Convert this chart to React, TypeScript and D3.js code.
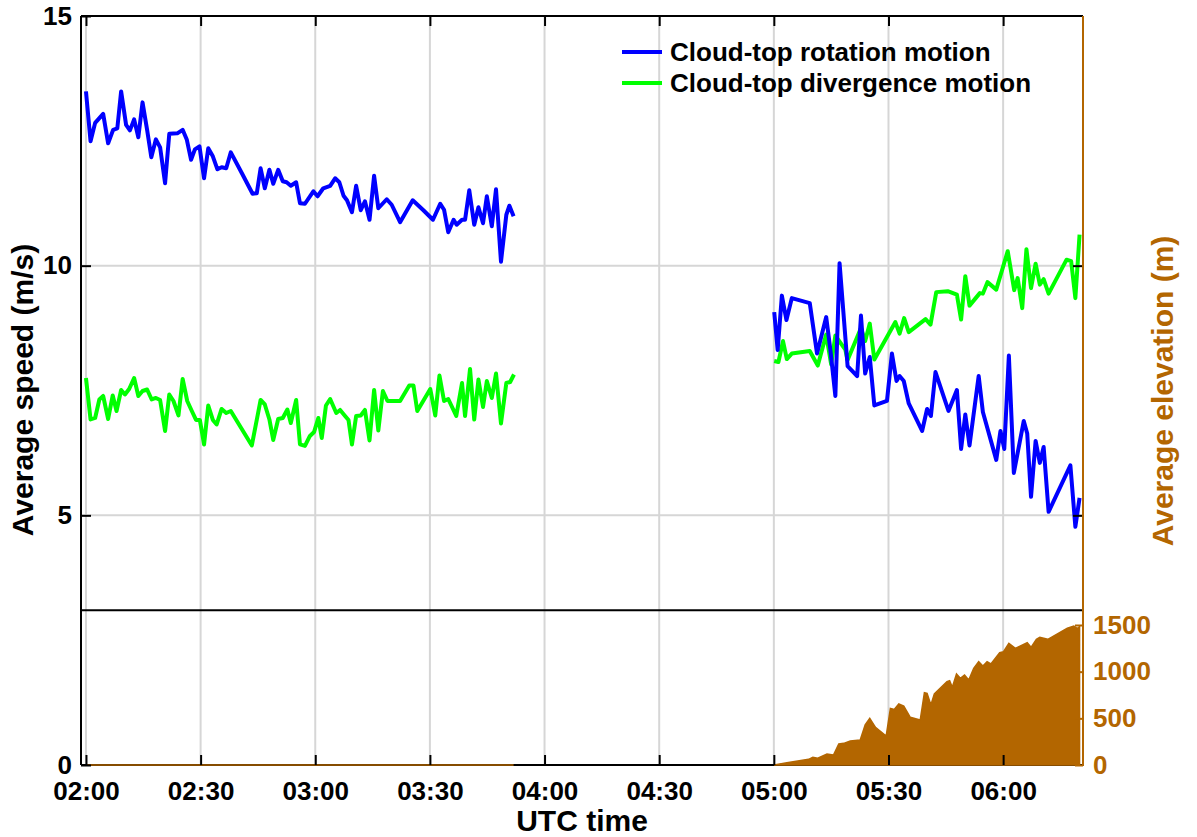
import React, { useEffect, useRef } from 'react';
import * as d3 from 'd3';

// time is minutes after 02:00 UTC, speed in m/s, elevation in m
const rotationBefore: [number, number][] = [
  [0, 13.49], [1.2, 12.49], [2.4, 12.86], [4.5, 13.04], [5.8, 12.45], [7.1, 12.72], [8.2, 12.75], [9.2, 13.49],
  [10.5, 12.82], [11.5, 12.71], [12.6, 12.93], [13.7, 12.57], [14.8, 13.27], [16.0, 12.72], [17.1, 12.17], [18.3, 12.53],
  [19.4, 12.37], [20.7, 11.65], [21.8, 12.64], [23.9, 12.65], [25.3, 12.72], [26.4, 12.52], [27.5, 12.12], [28.5, 12.33],
  [29.7, 12.39], [30.9, 11.75], [32.0, 12.35], [33.2, 12.19], [34.4, 11.93], [35.5, 11.97], [36.7, 11.95], [37.9, 12.27],
  [40.8, 11.85], [43.6, 11.44], [44.7, 11.45], [45.7, 11.95], [46.8, 11.55], [48.0, 11.92], [49.0, 11.64], [50.3, 11.92],
  [51.5, 11.69], [52.5, 11.67], [53.6, 11.6], [55.0, 11.67], [56.0, 11.25], [57.3, 11.24], [59.5, 11.49], [60.6, 11.39],
  [62.1, 11.55], [63.9, 11.6], [65.2, 11.75], [66.3, 11.67], [67.4, 11.4], [68.3, 11.31], [69.6, 11.07], [70.7, 11.6],
  [71.9, 11.11], [73.0, 11.29], [74.2, 10.92], [75.4, 11.8], [76.5, 11.15], [78.7, 11.33], [80.0, 11.22], [82.2, 10.87],
  [85.5, 11.31], [88.3, 11.11], [90.8, 10.92], [92.7, 11.24], [93.7, 11.12], [94.8, 10.67], [96.2, 10.92], [97.0, 10.82],
  [98.4, 10.92], [99.2, 10.92], [100.3, 11.51], [101.6, 10.82], [102.7, 11.17], [103.9, 10.85], [104.9, 11.39], [106.2, 10.79],
  [107.3, 11.53], [108.6, 10.08], [110.0, 11.02], [110.8, 11.2], [111.9, 10.99],
];

const divergenceBefore: [number, number][] = [
  [0, 7.75], [1.2, 6.92], [2.4, 6.95], [3.5, 7.32], [4.5, 7.39], [5.8, 6.93], [7.0, 7.4], [8.0, 7.09],
  [9.2, 7.51], [10.2, 7.42], [11.3, 7.53], [12.6, 7.75], [13.7, 7.39], [14.8, 7.49], [16.0, 7.52], [17.2, 7.32],
  [18.3, 7.35], [19.4, 7.31], [20.7, 6.69], [21.8, 7.42], [22.9, 7.29], [24.2, 7.0], [25.3, 7.73], [26.5, 7.29],
  [27.7, 7.09], [28.8, 6.91], [29.8, 6.91], [30.9, 6.42], [32.0, 7.2], [33.2, 6.91], [34.2, 6.82], [35.5, 7.13],
  [36.7, 7.05], [37.9, 7.09], [43.4, 6.4], [45.7, 7.31], [46.8, 7.22], [48.0, 6.92], [49.0, 6.51], [50.3, 6.93],
  [51.5, 6.95], [52.7, 7.12], [53.6, 6.85], [55.0, 7.31], [56.0, 6.42], [57.3, 6.39], [58.6, 6.59], [59.7, 6.67],
  [60.8, 6.95], [61.7, 6.55], [62.8, 7.2], [63.9, 7.33], [65.5, 7.05], [66.5, 7.11], [67.8, 6.99], [68.7, 6.91],
  [69.6, 6.42], [70.7, 6.99], [71.9, 7.0], [73.0, 7.11], [74.2, 6.5], [75.4, 7.51], [76.5, 6.7], [77.7, 7.49],
  [78.9, 7.29], [82.2, 7.29], [84.6, 7.6], [85.7, 7.6], [86.7, 7.09], [90.1, 7.53], [91.4, 7.0], [92.5, 7.8],
  [93.7, 7.29], [94.8, 7.33], [96.9, 6.99], [98.4, 7.65], [99.2, 6.99], [100.5, 7.93], [101.6, 6.92], [102.7, 7.72],
  [103.9, 7.17], [104.9, 7.69], [106.2, 7.35], [107.3, 7.84], [108.6, 6.84], [110.0, 7.65], [111.0, 7.67], [112.0, 7.82],
];

const rotationAfter: [number, number][] = [
  [180.1, 9.07], [181.0, 8.31], [182.1, 9.4], [183.3, 8.91], [184.7, 9.35], [189.4, 9.25], [191.3, 8.24], [193.7, 8.97],
  [194.8, 8.31], [196.1, 7.39], [197.2, 10.05], [199.3, 7.99], [201.8, 7.79], [202.8, 9.0], [203.9, 7.84], [205.1, 8.17],
  [206.3, 7.2], [209.6, 7.29], [210.9, 8.24], [212.1, 7.69], [212.9, 7.79], [214.0, 7.69], [215.3, 7.24], [218.8, 6.69],
  [220.1, 7.13], [221.1, 6.99], [222.3, 7.87], [225.7, 7.09], [227.9, 7.51], [229.0, 6.33], [230.1, 7.02], [231.2, 6.4],
  [233.6, 7.79], [234.7, 7.07], [238.2, 6.11], [239.3, 6.69], [240.3, 6.33], [241.5, 8.2], [242.8, 5.85], [245.4, 6.89],
  [246.3, 6.64], [247.3, 5.37], [248.5, 6.49], [249.6, 6.05], [250.6, 6.37], [251.9, 5.07], [257.6, 6.0], [258.9, 4.77],
  [260.0, 5.35],
];

const divergenceAfter: [number, number][] = [
  [180.1, 8.09], [181.2, 8.07], [182.4, 8.49], [183.4, 8.13], [184.7, 8.24], [189.4, 8.29], [191.5, 8.0], [193.7, 8.62],
  [195.0, 8.02], [196.1, 8.6], [198.7, 8.32], [199.3, 8.11], [202.8, 8.75], [203.9, 8.49], [205.1, 8.84], [206.3, 8.12],
  [211.8, 8.87], [212.9, 8.64], [214.1, 8.95], [215.3, 8.67], [219.7, 8.93], [221.0, 8.82], [222.5, 9.47], [225.5, 9.49],
  [227.9, 9.42], [229.0, 8.92], [230.1, 9.79], [231.2, 9.2], [233.9, 9.45], [234.7, 9.44], [235.9, 9.67], [238.2, 9.52],
  [241.2, 10.29], [242.9, 9.51], [243.8, 9.75], [245.0, 9.15], [246.1, 10.33], [247.3, 9.55], [248.5, 10.04], [249.6, 9.62],
  [250.6, 9.73], [251.9, 9.44], [256.6, 10.12], [257.8, 10.09], [258.9, 9.35], [260.0, 10.62],
];

const elevationBefore: [number, number][] = [[0, 0], [111.9, 0]];

const elevationAfter: [number, number][] = [
  [180.1, 0], [183.4, 25], [189.1, 61], [190.2, 82], [191.5, 72], [193.9, 118], [195.6, 107], [197.0, 225],
  [198.3, 232], [200.0, 257], [202.6, 268], [203.9, 429], [205.1, 500], [206.6, 404], [209.4, 311], [210.5, 607],
  [211.5, 596], [212.7, 654], [214.0, 632], [215.7, 511], [218.3, 482], [219.4, 775], [220.1, 768], [221.1, 643],
  [222.0, 761], [225.3, 893], [226.0, 903], [226.7, 832], [227.8, 975], [228.8, 929], [229.9, 964], [231.0, 911],
  [232.3, 1036], [233.6, 1107], [234.7, 1061], [235.8, 1107], [236.8, 1082], [239.1, 1203], [240.1, 1214], [241.5, 1304],
  [243.2, 1250], [246.3, 1311], [247.3, 1261], [248.7, 1347], [249.6, 1368], [251.7, 1347], [256.8, 1465], [258.5, 1489],
  [259.4, 1465], [260.0, 1482],
];

const timeTicks = [0, 30, 60, 90, 120, 150, 180, 210, 240];
const timeLabels = ['02:00', '02:30', '03:00', '03:30', '04:00', '04:30', '05:00', '05:30', '06:00'];
const speedTicks = [0, 5, 10, 15];
const elevationTicks = [0, 500, 1000, 1500];
const legendLabels = ['Cloud-top rotation motion', 'Cloud-top divergence motion'];

const BLUE = '#0000ff';
const GREEN = '#00ff00';
const BROWN = '#b36600';
const FONT = '"Liberation Sans", Arial, Helvetica, sans-serif';

function App() {
  const chartRef = useRef<SVGSVGElement>(null);

  useEffect(() => {
    const width = 1197;
    const height = 837;
    const left = 81, right = 1083, top = 16, bottom = 765;

    const svg = d3.select(chartRef.current);
    svg.selectAll('*').remove();
    svg.attr('width', width).attr('height', height);

    const x = d3.scaleLinear().domain([-1.3, 260.9]).range([left, right]);
    const y = d3.scaleLinear().domain([0, 15]).range([bottom, top]);
    const yr = d3.scaleLinear().domain([0, 1500]).range([bottom, 625]);

    // grid
    const grid = svg.append('g').attr('stroke', '#d6d6d6').attr('stroke-width', 2);
    grid.selectAll('line.v').data(timeTicks).join('line')
      .attr('x1', d => x(d)).attr('x2', d => x(d))
      .attr('y1', top).attr('y2', bottom);
    grid.selectAll('line.h').data([5, 10]).join('line')
      .attr('x1', left).attr('x2', right)
      .attr('y1', d => y(d)).attr('y2', d => y(d));

    // separator between the two panels
    svg.append('line')
      .attr('x1', left).attr('x2', right)
      .attr('y1', y(3.1)).attr('y2', y(3.1))
      .attr('stroke', '#000').attr('stroke-width', 2);

    // bottom frame line (under the area edge)
    svg.append('line')
      .attr('x1', left).attr('x2', right).attr('y1', bottom).attr('y2', bottom)
      .attr('stroke', '#000').attr('stroke-width', 2);

    // speed lines
    const line = d3.line<[number, number]>().x(d => x(d[0])).y(d => y(d[1]));
    const series: [[number, number][], string][] = [
      [divergenceBefore, GREEN], [rotationBefore, BLUE],
      [divergenceAfter, GREEN], [rotationAfter, BLUE],
    ];
    series.forEach(([data, color]) => {
      svg.append('path').datum(data)
        .attr('d', line)
        .attr('fill', 'none')
        .attr('stroke', color)
        .attr('stroke-width', 4)
        .attr('stroke-linejoin', 'round');
    });

    // elevation area
    const area = d3.area<[number, number]>()
      .x(d => x(d[0])).y0(yr(0)).y1(d => yr(d[1]));
    [elevationBefore, elevationAfter].forEach(data => {
      svg.append('path').datum(data)
        .attr('d', area)
        .attr('fill', BROWN)
        .attr('stroke', BROWN)
        .attr('stroke-width', 1.5);
    });

    const styleAxis = (g: any, color: string) => {
      g.select('.domain').remove();
      g.selectAll('line').attr('stroke', color).attr('stroke-width', 2);
      g.selectAll('text')
        .attr('fill', color)
        .attr('font-family', FONT)
        .attr('font-weight', 'bold')
        .attr('font-size', 26);
    };

    // axes
    svg.append('g')
      .attr('transform', `translate(0,${bottom})`)
      .call(d3.axisBottom(x).tickValues(timeTicks)
        .tickFormat((d, i) => timeLabels[i])
        .tickSizeInner(-10).tickSizeOuter(0).tickPadding(17))
      .call(g => styleAxis(g, '#000'));

    svg.append('g')
      .attr('transform', `translate(0,${top})`)
      .call(d3.axisTop(x).tickValues(timeTicks).tickFormat(() => '')
        .tickSizeInner(-10).tickSizeOuter(0))
      .call(g => styleAxis(g, '#000'));

    svg.append('g')
      .attr('transform', `translate(${left},0)`)
      .call(d3.axisLeft(y).tickValues(speedTicks)
        .tickSizeInner(-10).tickSizeOuter(0).tickPadding(9))
      .call(g => styleAxis(g, '#000'));

    svg.append('g')
      .attr('transform', `translate(${right},0)`)
      .call(d3.axisRight(y).tickValues([5, 10]).tickFormat(() => '')
        .tickSizeInner(-10).tickSizeOuter(0))
      .call(g => styleAxis(g, '#000'));

    svg.append('g')
      .attr('transform', `translate(${right},0)`)
      .call(d3.axisRight(yr).tickValues(elevationTicks).tickFormat(d3.format('d'))
        .tickSizeInner(-8).tickSizeOuter(0).tickPadding(10))
      .call(g => styleAxis(g, BROWN));

    // frame
    svg.append('line').attr('x1', left).attr('x2', right).attr('y1', top).attr('y2', top)
      .attr('stroke', '#000').attr('stroke-width', 2);
    svg.append('line').attr('x1', left).attr('x2', left).attr('y1', top).attr('y2', bottom)
      .attr('stroke', '#000').attr('stroke-width', 2);
    svg.append('line').attr('x1', right).attr('x2', right).attr('y1', top).attr('y2', bottom + 1)
      .attr('stroke', BROWN).attr('stroke-width', 2);

    // legend
    const legend = svg.append('g');
    legendLabels.forEach((label, i) => {
      const ly = 52 + i * 31;
      legend.append('line')
        .attr('x1', 622).attr('x2', 662).attr('y1', ly).attr('y2', ly)
        .attr('stroke', i === 0 ? BLUE : GREEN).attr('stroke-width', 4);
      legend.append('text')
        .attr('x', 670).attr('y', ly + 9)
        .attr('font-family', FONT).attr('font-weight', 'bold').attr('font-size', 26)
        .text(label);
    });

    // axis titles
    svg.append('text')
      .attr('x', (left + right) / 2).attr('y', 831)
      .attr('text-anchor', 'middle')
      .attr('font-family', FONT).attr('font-weight', 'bold').attr('font-size', 30)
      .text('UTC time');

    svg.append('text')
      .attr('transform', 'translate(33,390) rotate(-90)')
      .attr('text-anchor', 'middle')
      .attr('font-family', FONT).attr('font-weight', 'bold').attr('font-size', 30)
      .text('Average speed (m/s)');

    svg.append('text')
      .attr('transform', 'translate(1173,391) rotate(-90)')
      .attr('text-anchor', 'middle')
      .attr('fill', BROWN)
      .attr('font-family', FONT).attr('font-weight', 'bold').attr('font-size', 30)
      .text('Average elevation (m)');
  }, []);

  return (
    <svg ref={chartRef} style={{ position: 'absolute', left: 0, top: 0, background: '#fff' }}></svg>
  );
}

export default App;
